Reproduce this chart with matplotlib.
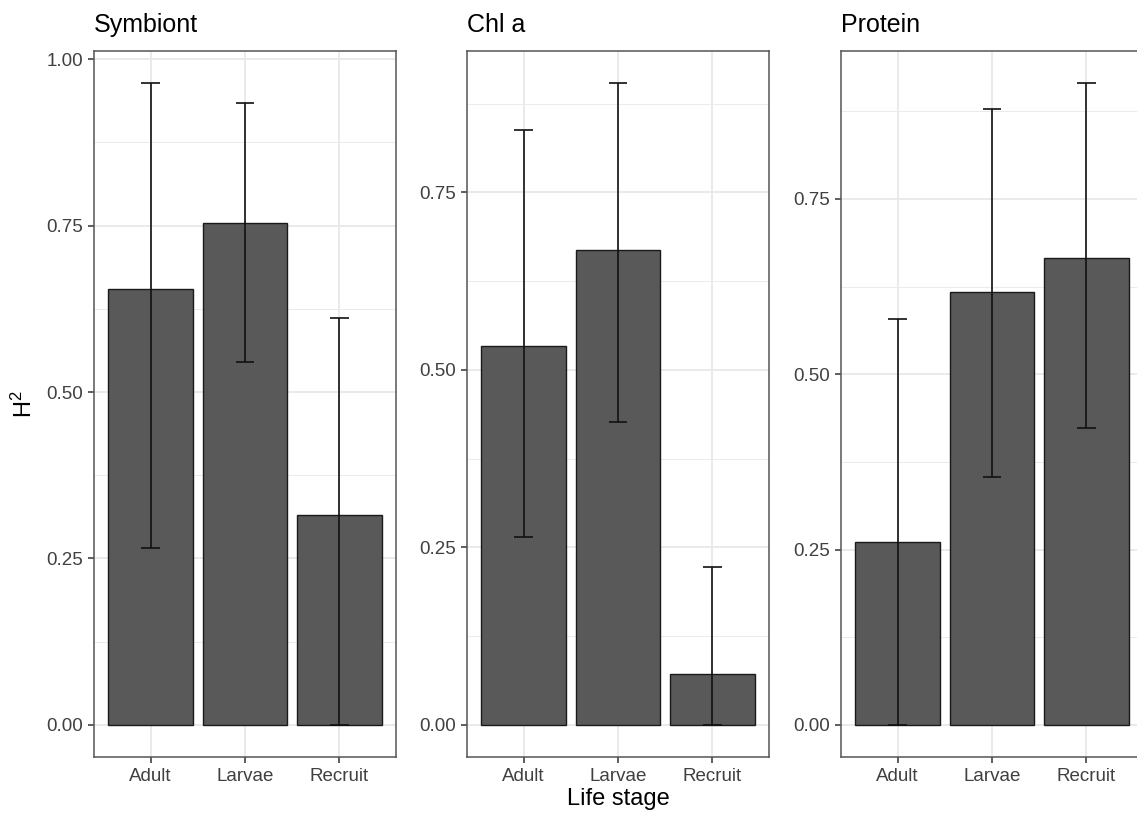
import numpy as np
import matplotlib
matplotlib.use('Agg')
import matplotlib.pyplot as plt
from matplotlib.ticker import MultipleLocator

plt.rcParams['font.family'] = ['Liberation Sans', 'DejaVu Sans']
plt.rcParams['mathtext.fontset'] = 'custom'
plt.rcParams['mathtext.rm'] = 'Liberation Sans'
plt.rcParams['mathtext.it'] = 'Liberation Sans'

# Data
stages = ['Adult', 'Larvae', 'Recruit']
traits = ['Symbiont', 'Chl a', 'Protein']

symbiont_h2 = [0.654, 0.754, 0.316]
symbiont_lo = [0.266, 0.545, 0.0]
symbiont_hi = [0.964, 0.934, 0.611]

chla_h2 = [0.534, 0.669, 0.072]
chla_lo = [0.264, 0.427, 0.0]
chla_hi = [0.838, 0.904, 0.222]

protein_h2 = [0.261, 0.617, 0.666]
protein_lo = [0.0, 0.354, 0.423]
protein_hi = [0.578, 0.878, 0.915]

panels = [
    (symbiont_h2, symbiont_lo, symbiont_hi),
    (chla_h2, chla_lo, chla_hi),
    (protein_h2, protein_lo, protein_hi),
]

W, H = 1137, 814
fig = plt.figure(figsize=(W / 100, H / 100), dpi=100)

lefts = [94, 467, 841]
pw = 302
top, bottom = 51, 757

x = np.arange(len(stages))
for i, (vals, lo, hi) in enumerate(panels):
    ax = fig.add_axes([lefts[i] / W, (H - bottom) / H, pw / W, (bottom - top) / H])
    ax.set_axisbelow(True)
    ax.bar(x, vals, width=0.9, color='#595959', edgecolor='#1a1a1a', linewidth=1.0, zorder=2)
    ax.vlines(x, lo, hi, color='#111111', linewidth=1.2, zorder=3)
    ax.hlines(lo, x - 0.1, x + 0.1, color='#111111', linewidth=1.2, zorder=3)
    ax.hlines(hi, x - 0.1, x + 0.1, color='#111111', linewidth=1.2, zorder=3)

    ymax = max(hi) * 1.05
    ax.set_ylim(-0.05 * max(hi), ymax)
    ax.set_xlim(-0.6, 2.6)
    ax.set_xticks(x)
    ax.set_xticklabels(stages)
    ax.yaxis.set_major_locator(MultipleLocator(0.25))
    ax.yaxis.set_minor_locator(MultipleLocator(0.125))
    ax.yaxis.set_major_formatter(matplotlib.ticker.FormatStrFormatter('%.2f'))

    ax.grid(which='major', color='#E8E8E8', linewidth=1.3)
    ax.grid(which='minor', axis='y', color='#EBEBEB', linewidth=0.7)
    ax.tick_params(which='minor', length=0)
    ax.tick_params(which='major', length=4, width=1.1, color='#333333',
                   labelsize=13.5, labelcolor='#404040', pad=4)
    for s in ax.spines.values():
        s.set_color('#555555')
        s.set_linewidth(1.1)

    ax.set_title(traits[i], loc='left', fontsize=18, pad=14, color='black')

fig.text((467 + pw / 2) / W, (H - 805) / H, 'Life stage', ha='center', va='baseline',
         fontsize=17, color='black')
fig.text(24 / W, (H - 404) / H, r'$\mathrm{H}^2$', ha='center', va='center', rotation=90,
         fontsize=17, color='black')

fig.savefig('out.png', dpi=100)
